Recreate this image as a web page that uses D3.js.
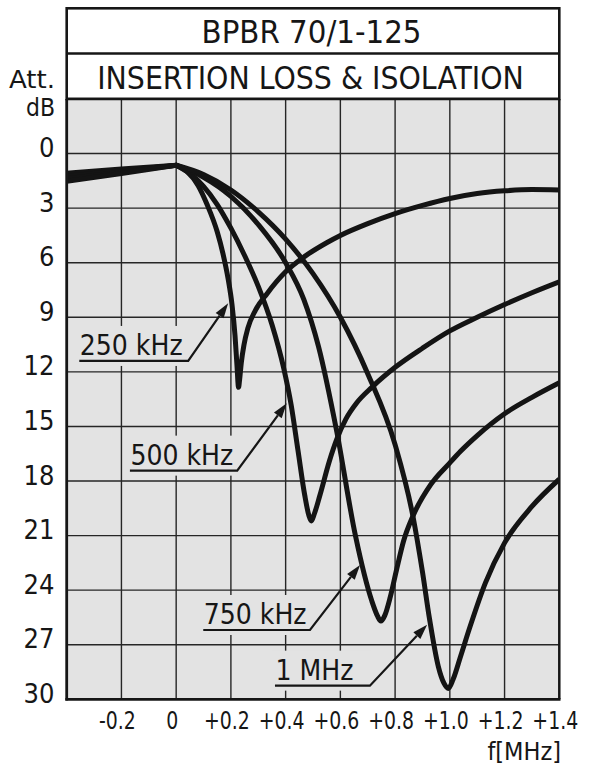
<!DOCTYPE html>
<html><head><meta charset="utf-8">
<script src="https://cdn.jsdelivr.net/npm/d3@7"></script>
<style>
html,body{margin:0;padding:0;background:#fff;}
svg{display:block;}
text{font-family:'DejaVu Sans Condensed','DejaVu Sans',sans-serif;font-stretch:condensed;fill:#161616;}
</style></head><body>
<svg id="c" width="600" height="772"></svg>
<script>
const title = "BPBR 70/1-125";
const subtitle = "INSERTION LOSS & ISOLATION";
const yTitle = ["Att.", "dB"];
const xTitle = "f[MHz]";
const xTickValues = [-0.2, 0, 0.2, 0.4, 0.6, 0.8, 1.0, 1.2, 1.4];
const xTickLabels = ["-0.2", "0", "+0.2", "+0.4", "+0.6", "+0.8", "+1.0", "+1.2", "+1.4"];
const yTickValues = [0, 3, 6, 9, 12, 15, 18, 21, 24, 27, 30];
const yTickLabels = ["0", "3", "6", "9", "12", "15", "18", "21", "24", "27", "30"];

// 250 kHz
const f250 = [-0.4, -0.2, 0, 0.04, 0.08, 0.113, 0.15, 0.171, 0.19, 0.204, 0.215, 0.222, 0.228, 0.232, 0.238, 0.248, 0.262, 0.29, 0.332, 0.4, 0.47, 0.55, 0.6, 0.7, 0.8, 0.9, 1.0, 1.1, 1.2, 1.3, 1.4];
const a250 = [1.08, 0.85, 0.64, 1.0, 1.75, 2.8, 4.3, 5.5, 6.9, 8.3, 10.0, 11.6, 12.85, 12.4, 11.5, 10.5, 9.6, 8.6, 7.7, 6.5, 5.65, 4.9, 4.5, 3.85, 3.3, 2.85, 2.47, 2.2, 2.05, 1.98, 2.0];
// 500 kHz
const f500 = [-0.4, -0.2, 0, 0.05, 0.1, 0.15, 0.2, 0.25, 0.3, 0.35, 0.393, 0.42, 0.445, 0.47, 0.485, 0.494, 0.505, 0.525, 0.56, 0.587, 0.62, 0.66, 0.715, 0.8, 0.9, 1.0, 1.1, 1.2, 1.3, 1.4];
const a500 = [1.24, 0.94, 0.64, 1.1, 1.8, 2.8, 4.1, 5.6, 7.3, 9.4, 11.8, 13.8, 16.3, 18.8, 19.9, 20.2, 19.8, 18.8, 16.9, 15.7, 14.6, 13.7, 12.85, 11.75, 10.7, 9.75, 9.0, 8.3, 7.65, 7.05];
// 750 kHz
const f750 = [-0.4, -0.2, 0, 0.1, 0.2, 0.3, 0.4, 0.466, 0.52, 0.587, 0.655, 0.715, 0.735, 0.748, 0.762, 0.782, 0.805, 0.831, 0.866, 0.93, 1.0, 1.04, 1.1, 1.2, 1.3, 1.4];
const a750 = [1.38, 1.02, 0.64, 1.3, 2.35, 3.9, 6.0, 8.0, 10.6, 15.3, 21.0, 24.6, 25.4, 25.7, 25.4, 24.4, 22.9, 21.3, 19.9, 18.2, 17.0, 16.35, 15.5, 14.3, 13.4, 12.6];
// 1 MHz
const f1M = [-0.4, -0.2, 0, 0.1, 0.2, 0.3, 0.4, 0.5, 0.6, 0.7, 0.8, 0.866, 0.9, 0.926, 0.958, 0.978, 0.995, 1.012, 1.04, 1.074, 1.13, 1.2, 1.3, 1.4];
const a1M = [1.52, 1.1, 0.64, 1.15, 2.0, 3.2, 4.7, 6.6, 9.0, 12.1, 16.0, 20.0, 23.0, 25.6, 28.2, 29.1, 29.4, 28.9, 27.6, 26.0, 23.6, 21.4, 19.4, 17.9];

const seriesF = [f250, f500, f750, f1M];
const seriesA = [a250, a500, a750, a1M];

// annotation labels (data coordinates)
const annLabels = ["250 kHz", "500 kHz", "750 kHz", "1 MHz"];
const annX0 = [-0.354, -0.169, 0.099, 0.361];
const annX1 = [0.044, 0.223, 0.489, 0.708];
const annY = [11.4, 17.43, 26.19, 29.25];
const annTipX = [0.19, 0.404, 0.672, 0.917];
const annTipY = [8.23, 13.73, 22.62, 25.9];

const svg = d3.select("#c");
const L = 66.7, R = 559.3, T = 99, B = 699.3;
const x = d3.scaleLinear().domain([-0.4, 1.4]).range([L, R]);
const y = d3.scaleLinear().domain([-3, 30]).range([T, B]);
const ink = "#161616";

// title boxes
svg.append("rect").attr("x", L).attr("y", 8.3).attr("width", R - L).attr("height", T - 8.3)
  .attr("fill", "#fff").attr("stroke", ink).attr("stroke-width", 2.6);
svg.append("line").attr("x1", L).attr("x2", R).attr("y1", 53.5).attr("y2", 53.5)
  .attr("stroke", ink).attr("stroke-width", 2.6);
svg.append("text").attr("x", (L + R) / 2 - 1.5).attr("y", 43.3).attr("text-anchor", "middle")
  .attr("font-size", 32.6).text(title);
svg.append("text").attr("x", (L + R) / 2 - 2.5).attr("y", 89.3).attr("text-anchor", "middle")
  .attr("font-size", 31.6).text(subtitle);

// plot background
svg.append("rect").attr("x", L).attr("y", T).attr("width", R - L).attr("height", B - T).attr("fill", "#e3e3e3");

// grid
const grid = svg.append("g").attr("stroke", "#262626").attr("stroke-width", 1.4);
xTickValues.filter(v => v > -0.4 && v < 1.4).forEach(v => {
  grid.append("line").attr("x1", x(v)).attr("x2", x(v)).attr("y1", T).attr("y2", B);
});
yTickValues.filter(v => v > -3 && v < 30).forEach(v => {
  grid.append("line").attr("x1", L).attr("x2", R).attr("y1", y(v)).attr("y2", y(v));
});

// label knockouts
annLabels.forEach((lab, i) => {
  const x0 = x(annX0[i]), x1 = x(annX1[i]), yy = y(annY[i]);
  svg.append("rect").attr("x", x0 - 3).attr("y", yy - 35).attr("width", x1 - x0 + 5).attr("height", 40)
    .attr("fill", "#e3e3e3");
});

// curves
const clip = svg.append("clipPath").attr("id", "pc");
clip.append("rect").attr("x", L).attr("y", T).attr("width", R - L).attr("height", B - T);
const gC = svg.append("g").attr("clip-path", "url(#pc)");
const lineGen = d3.line().x(d => x(d[0])).y(d => y(d[1])).curve(d3.curveMonotoneX);
seriesF.forEach((fs, i) => {
  const pts = fs.map((f, j) => [f, seriesA[i][j]]);
  const left = pts.filter(p => p[0] <= 0);
  const right = pts.filter(p => p[0] >= 0);
  const dstr = lineGen(left) + lineGen(right).replace(/^M/, "L");
  gC.append("path").attr("d", dstr).attr("fill", "none").attr("stroke", "#141414")
    .attr("stroke-width", 5).attr("stroke-linejoin", "miter").attr("stroke-linecap", "butt");
});

// frame
svg.append("line").attr("x1", L).attr("x2", L).attr("y1", T).attr("y2", B + 1.3).attr("stroke", ink).attr("stroke-width", 2.8);
svg.append("line").attr("x1", L - 1.3).attr("x2", R + 1.2).attr("y1", B).attr("y2", B).attr("stroke", ink).attr("stroke-width", 2.8);
svg.append("line").attr("x1", R).attr("x2", R).attr("y1", T).attr("y2", B).attr("stroke", ink).attr("stroke-width", 2.5);
svg.append("line").attr("x1", L).attr("x2", R).attr("y1", T).attr("y2", T).attr("stroke", ink).attr("stroke-width", 2.6);

// annotations
annLabels.forEach((lab, i) => {
  const x0 = x(annX0[i]), x1 = x(annX1[i]), yy = y(annY[i]);
  const tx = x(annTipX[i]), ty = y(annTipY[i]);
  svg.append("text").attr("x", x0 + 0.5).attr("y", yy - 5.5).attr("font-size", 28).text(lab);
  const ang = Math.atan2(ty - yy, tx - x1);
  const hl = 15, hw = 4.8;
  const bx = tx - hl * Math.cos(ang), by = ty - hl * Math.sin(ang);
  svg.append("path").attr("d", `M${x0},${yy}L${x1},${yy}L${bx},${by}`)
    .attr("fill", "none").attr("stroke", ink).attr("stroke-width", 2.2).attr("stroke-linejoin", "miter");
  const px = -Math.sin(ang), py = Math.cos(ang);
  svg.append("path").attr("d", `M${tx},${ty}L${bx + px * hw},${by + py * hw}L${bx - px * hw},${by - py * hw}Z`)
    .attr("fill", ink);
});

// axis labels
yTickValues.forEach((v, i) => {
  svg.append("text").attr("x", 54.5).attr("y", y(v) + 3.5).attr("text-anchor", "end")
    .attr("font-size", 27).text(yTickLabels[i]);
});
svg.append("text").attr("x", 55).attr("y", 87.5).attr("text-anchor", "end").attr("font-size", 24)
  .attr("textLength", 46).attr("lengthAdjust", "spacingAndGlyphs").text(yTitle[0]);
svg.append("text").attr("x", 55).attr("y", 115.5).attr("text-anchor", "end").attr("font-size", 24)
  .attr("textLength", 29).attr("lengthAdjust", "spacingAndGlyphs").text(yTitle[1]);
xTickValues.forEach((v, i) => {
  svg.append("text").attr("transform", `translate(${x(v) - 4},729) scale(0.84,1)`)
    .attr("text-anchor", "middle").attr("font-size", 25).text(xTickLabels[i]);
});
svg.append("text").attr("x", 561).attr("y", 759.5).attr("text-anchor", "end").attr("font-size", 25).text(xTitle);
</script>
</body></html>
